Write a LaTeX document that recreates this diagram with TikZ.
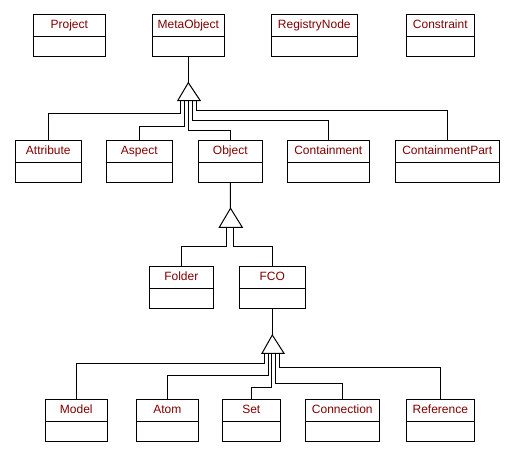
\documentclass[tikz,border=0pt]{standalone}
\usepackage{fontspec}
\setmainfont{Liberation Sans}
\definecolor{cname}{RGB}{128,0,0}
\begin{document}
\begin{tikzpicture}[x=1pt,y=-1pt,line width=1pt,
  cls/.style={draw, minimum height=42pt, inner sep=0pt,
    path picture={\draw[line width=1pt] ([yshift=-22pt]path picture bounding box.north west) -- ([yshift=-22pt]path picture bounding box.north east);}},
  ttl/.style={text=cname, font=\fontsize{12}{13}\selectfont, anchor=center, yshift=-10.6pt, inner sep=0pt, text height=8.6pt, text depth=0pt},
  tri/.style={draw, fill=white, line join=miter}]
\useasboundingbox (0,0) rectangle (516,456);
% row 1
\node[cls, minimum width=72pt, label={[ttl]north:Project}] (project) at (69.3,35.3) {};
\node[cls, minimum width=72pt, label={[ttl]north:MetaObject}] (meta) at (188.3,35.3) {};
\node[cls, minimum width=86pt, label={[ttl]north:RegistryNode}] (reg) at (314.3,35.3) {};
\node[cls, minimum width=68pt, label={[ttl]north:Constraint}] (cons) at (440.3,35.3) {};
% row 2
\node[cls, minimum width=66pt, label={[ttl]north:Attribute}] (attr) at (48.3,161.3) {};
\node[cls, minimum width=66pt, label={[ttl]north:Aspect}] (aspect) at (139.3,161.3) {};
\node[cls, minimum width=64pt, label={[ttl]north:Object}] (object) at (230.3,161.3) {};
\node[cls, minimum width=82pt, label={[ttl]north:Containment}] (cont) at (328.3,161.3) {};
\node[cls, minimum width=104pt, label={[ttl]north:ContainmentPart}] (contp) at (447.3,161.3) {};
% row 3
\node[cls, minimum width=64pt, label={[ttl]north:Folder}] (folder) at (181.3,287.5) {};
\node[cls, minimum width=66pt, label={[ttl]north:FCO}] (fco) at (272.3,287.5) {};
% row 4
\node[cls, minimum width=62pt, label={[ttl]north:Model}] (model) at (76.3,420.3) {};
\node[cls, minimum width=62pt, label={[ttl]north:Atom}] (atom) at (167.3,420.3) {};
\node[cls, minimum width=58pt, label={[ttl]north:Set}] (set) at (251.3,420.3) {};
\node[cls, minimum width=74pt, label={[ttl]north:Connection}] (conn) at (342.3,420.3) {};
\node[cls, minimum width=68pt, label={[ttl]north:Reference}] (ref) at (440.3,420.3) {};
% triangle 1
\coordinate (t1) at (188.3,82.7);
\draw (meta.south) -- (t1);
\coordinate (t1a) at (180.3,100.7);
\coordinate (t1b) at (184.3,100.7);
\coordinate (t1c) at (188.3,100.7);
\coordinate (t1d) at (192.3,100.7);
\coordinate (t1e) at (196.3,100.7);
\draw (t1a) -- (180.3,113.3) -| (attr.north);
\draw (t1b) -- (184.3,126.3) -| (aspect.north);
\draw (t1c) -- (188.3,130.7) -| (object.north);
\draw (t1d) -- (192.3,120.3) -| (cont.north);
\draw (t1e) -- (196.3,110.3) -| (contp.north);
\draw[tri] (t1) -- (200.3,100.7) -- (177.7,100.7) -- cycle;
% triangle 2
\coordinate (t2) at (230.5,208.3);
\draw (object.south) -- (t2);
\coordinate (t2a) at (226.7,227.3);
\coordinate (t2b) at (233.3,227.3);
\draw (t2a) -- (226.7,246.3) -| (folder.north);
\draw (t2b) -- (233.3,246.3) -| (fco.north);
\draw[tri] (t2) -- (242.3,227.3) -- (219.3,227.3) -- cycle;
% triangle 3
\coordinate (t3) at (272.3,335);
\draw (fco.south) -- (t3);
\coordinate (t3a) at (264.3,353.3);
\coordinate (t3b) at (268.3,353.3);
\coordinate (t3c) at (271.3,353.3);
\coordinate (t3d) at (275.3,353.3);
\coordinate (t3e) at (279.3,353.3);
\draw (t3a) -- (264.3,363.3) -| (model.north);
\draw (t3b) -- (268.3,375.7) -| (atom.north);
\draw (t3c) -- (271.3,387.3) -| (set.north);
\draw (t3d) -- (275.3,383.3) -| (conn.north);
\draw (t3e) -- (279.3,367.3) -| (ref.north);
\draw[tri] (t3) -- (284,353.3) -- (262,353.3) -- cycle;
\end{tikzpicture}
\end{document}
